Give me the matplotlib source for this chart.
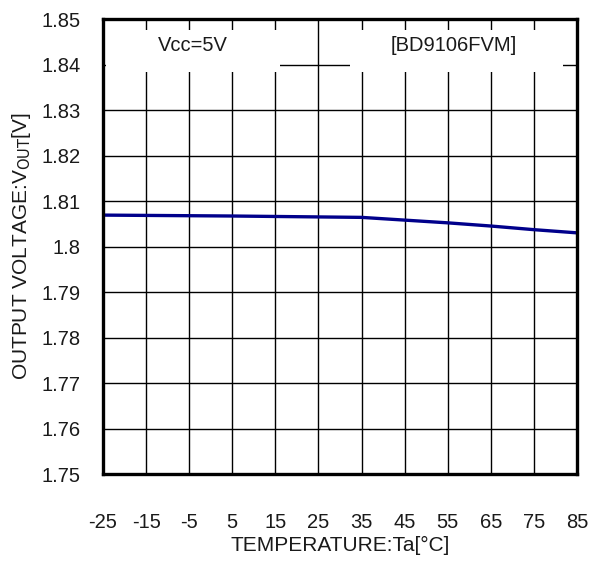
import numpy as np
import matplotlib.pyplot as plt
from matplotlib.patches import Rectangle

# temperature [degC] vs output voltage [V]
temps = [-25, 5, 35, 45, 55, 65, 75, 85]
vout = [1.8069, 1.8067, 1.8064, 1.8058, 1.8052, 1.8045, 1.8037, 1.8030]

xticks = np.arange(-25, 86, 10)
xtick_labels = ['-25', '-15', '-5', '5', '15', '25', '35', '45', '55', '65', '75', '85']
yticks = [1.75, 1.76, 1.77, 1.78, 1.79, 1.80, 1.81, 1.82, 1.83, 1.84, 1.85]
ytick_labels = ['1.75', '1.76', '1.77', '1.78', '1.79', '1.8',
                '1.81', '1.82', '1.83', '1.84', '1.85']

plt.rcParams['font.family'] = ['Liberation Sans', 'DejaVu Sans']

fig = plt.figure(figsize=(5.89, 5.63), dpi=100)
ax = fig.add_axes([103/589, 1 - 474/563, 474/589, 455/563])

ax.plot(temps, vout, color='#00008b', lw=2.4, zorder=5)

ax.set_xlim(-25, 85)
ax.set_ylim(1.75, 1.85)
ax.set_xticks(xticks)
ax.set_xticklabels(xtick_labels)
ax.set_yticks(yticks)
ax.set_yticklabels(ytick_labels)
ax.tick_params(axis='both', length=0, labelsize=14.5, colors='#1a1a1a')
ax.tick_params(axis='x', pad=28)
ax.tick_params(axis='y', pad=16)
ax.grid(True, color='black', lw=1.0)
ax.set_axisbelow(True)
for s in ax.spines.values():
    s.set_linewidth(2.4)
    s.set_zorder(10)

# white boxes behind the annotation text
for x0, x1 in [(106, 280), (350, 563)]:
    ax.add_patch(Rectangle(((x0 - 103) / 474, (474 - 72) / 455),
                           (x1 - x0) / 474, 42 / 455,
                           transform=ax.transAxes, facecolor='white',
                           edgecolor='none', zorder=3))
ax.text((193 - 103) / 474, (474 - 45) / 455, 'Vcc=5V', transform=ax.transAxes,
        ha='center', va='center', fontsize=14.5, color='#1a1a1a', zorder=4)
ax.text((454 - 103) / 474, (474 - 45) / 455, '[BD9106FVM]', transform=ax.transAxes,
        ha='center', va='center', fontsize=14.5, color='#1a1a1a', zorder=4)

ax.set_xlabel('TEMPERATURE:Ta[\u00b0C]', fontsize=15, color='#1a1a1a', labelpad=3)
ax.set_ylabel(r'OUTPUT VOLTAGE:V$_{\mathrm{OUT}}$[V]', fontsize=15,
              color='#1a1a1a', labelpad=6)

fig.savefig('out.png', dpi=100)
